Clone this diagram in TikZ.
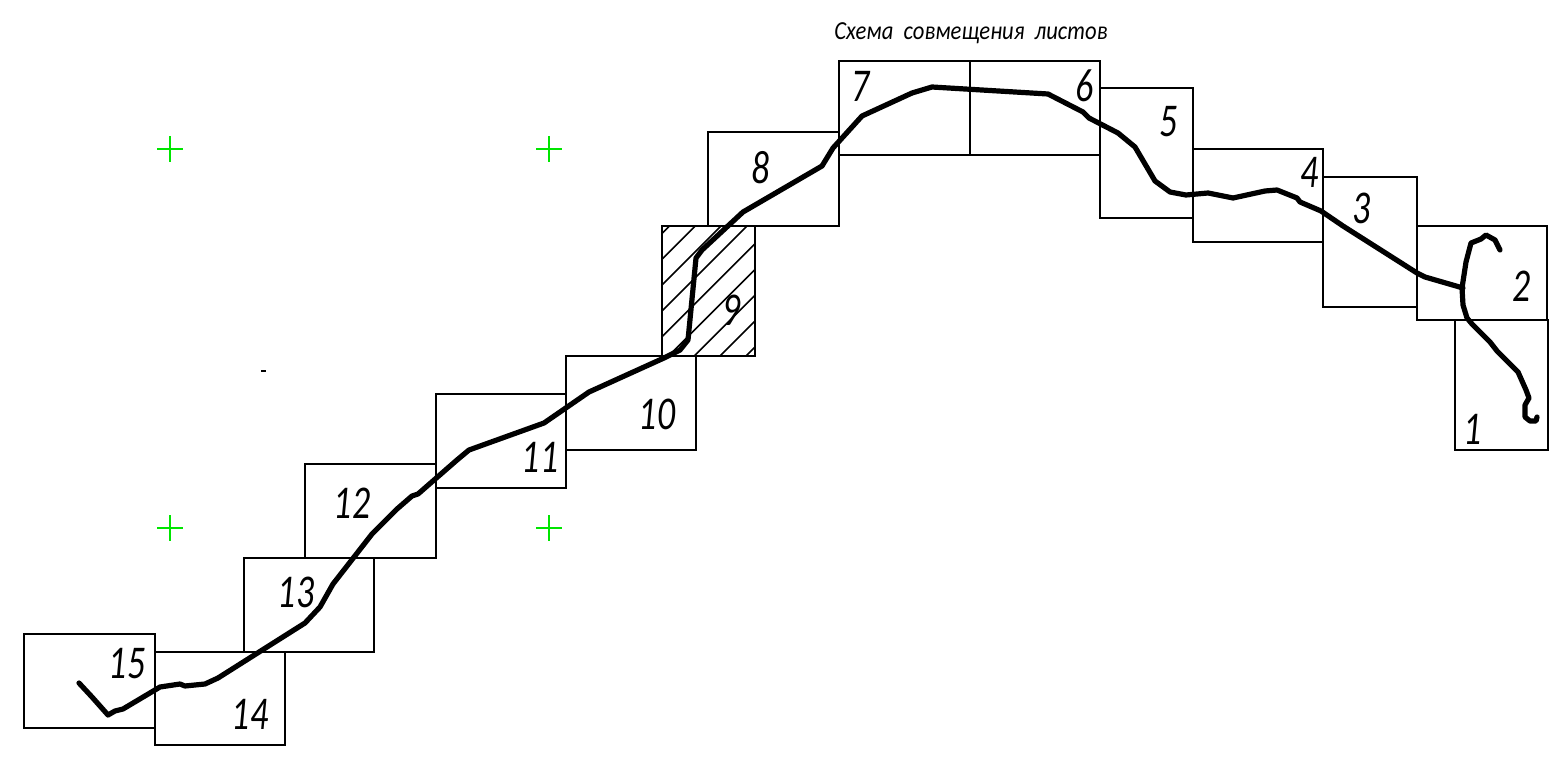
\documentclass[tikz,border=0pt]{standalone}
\usepackage{fontspec}
\setmainfont{Carlito}
\newfontfamily\numfont[FakeStretch=0.76]{Carlito}
\newfontfamily\ttlfont[FakeStretch=0.87]{Carlito}
\tikzset{
 sheet/.style={draw=black,line width=2pt},
 route/.style={draw=black,line width=5.2pt,line join=round,line cap=round},
 hatchline/.style={draw=black,line width=1.6pt},
 crossmark/.style={draw=green!90!black,line width=1.3pt},
 num/.style={font=\fontsize{47}{47}\selectfont\numfont\itshape,inner sep=0pt},
 ttl/.style={font=\fontsize{26}{26}\selectfont\ttlfont\itshape,inner sep=0pt}
}
\begin{document}
\begin{tikzpicture}[x=1pt,y=-1pt]
\useasboundingbox (0,0) rectangle (1557,767);
\fill[white] (0,0) rectangle (1557,767);
% hatching of sheet 9
\begin{scope}
\clip (662,226) rectangle (755,356);
\foreach \k in {0,...,8}{
  \pgfmathsetmacro{\s}{895.5+25.8*\k}
  \draw[hatchline] (600,\s-600) -- (800,\s-800);
}
\end{scope}
% sheets
\foreach \xa/\ya/\xb/\yb in {1455/320/1548/450,1417/226/1547/320,1323/177/1417/307,1193/149/1323/242,1100/88/1193/218,970/61/1100/155,839/61/970/155,708/132/839/226,662/226/755/356,566/356/696/450,436/394/566/488,305/464/436/558,244/558/374/652,155/652/285/745,24/634/155/728}
  \draw[sheet] (\xa,\ya) rectangle (\xb,\yb);
% crosses
\foreach \cx/\cy in {170/149,549/149,170/528,549/528}{
  \draw[crossmark] (\cx-13,\cy) -- (\cx+13,\cy);
  \draw[crossmark] (\cx,\cy-13) -- (\cx,\cy+13);
}
\draw[black,line width=2pt] (261,371) -- (266,371);
% route
\draw[route] (79,683) -- (92,697) -- (108,715) -- (115,711) -- (123,709) -- (160,687) -- (180,684) -- (185,686) -- (205,684) -- (218,678) -- (305,623) -- (320,607) -- (333,584) -- (372,534) -- (397,509) -- (412,496) -- (418,494) -- (457,460) -- (469,450) -- (544,423) -- (589,392) -- (664,358) -- (680,350) -- (688,340) -- (696,258) -- (702,250) -- (743,212) -- (822,166) -- (833,148) -- (862,116) -- (912,93) -- (932,87) -- (1048,94) -- (1083,112) -- (1089,118) -- (1118,133) -- (1135,147) -- (1155,181) -- (1170,192) -- (1186,195) -- (1208,193) -- (1233,198) -- (1265,191) -- (1277,190) -- (1297,198) -- (1300,202) -- (1321,211) -- (1343,226) -- (1417,273) -- (1425,277) -- (1463,288);
\draw[route] (1500,250) -- (1495,240) -- (1486,235) -- (1481,239) -- (1471,243) -- (1466,262) -- (1462,288) -- (1463,305) -- (1467,318) -- (1472,324) -- (1490,342) -- (1497,351) -- (1509,363) -- (1518,372) -- (1526,390) -- (1529,398) -- (1525,405) -- (1525,417) -- (1530,421) -- (1536,421) -- (1537,417);
% labels
\node[ttl] (title) at (971,33) {Схема\ \ совмещения\ \ листов};
\node[num] (n1) at (1473,429) {1};
\node[num] (n2) at (1522,286) {2};
\node[num] (n3) at (1362,208) {3};
\node[num] (n4) at (1310,172) {4};
\node[num] (n5) at (1169,122) {5};
\node[num] (n6) at (1085,86) {6};
\node[num] (n7) at (861,86) {7};
\node[num] (n8) at (761,168) {8};
\node[num] (n9) at (732,310) {9};
\node[num] (n10) at (657,414) {10};
\node[num] (n11) at (540,457) {11};
\node[num] (n12) at (352,503) {12};
\node[num] (n13) at (296,592) {13};
\node[num] (n14) at (250,714) {14};
\node[num] (n15) at (127,664) {15};
\end{tikzpicture}
\end{document}
